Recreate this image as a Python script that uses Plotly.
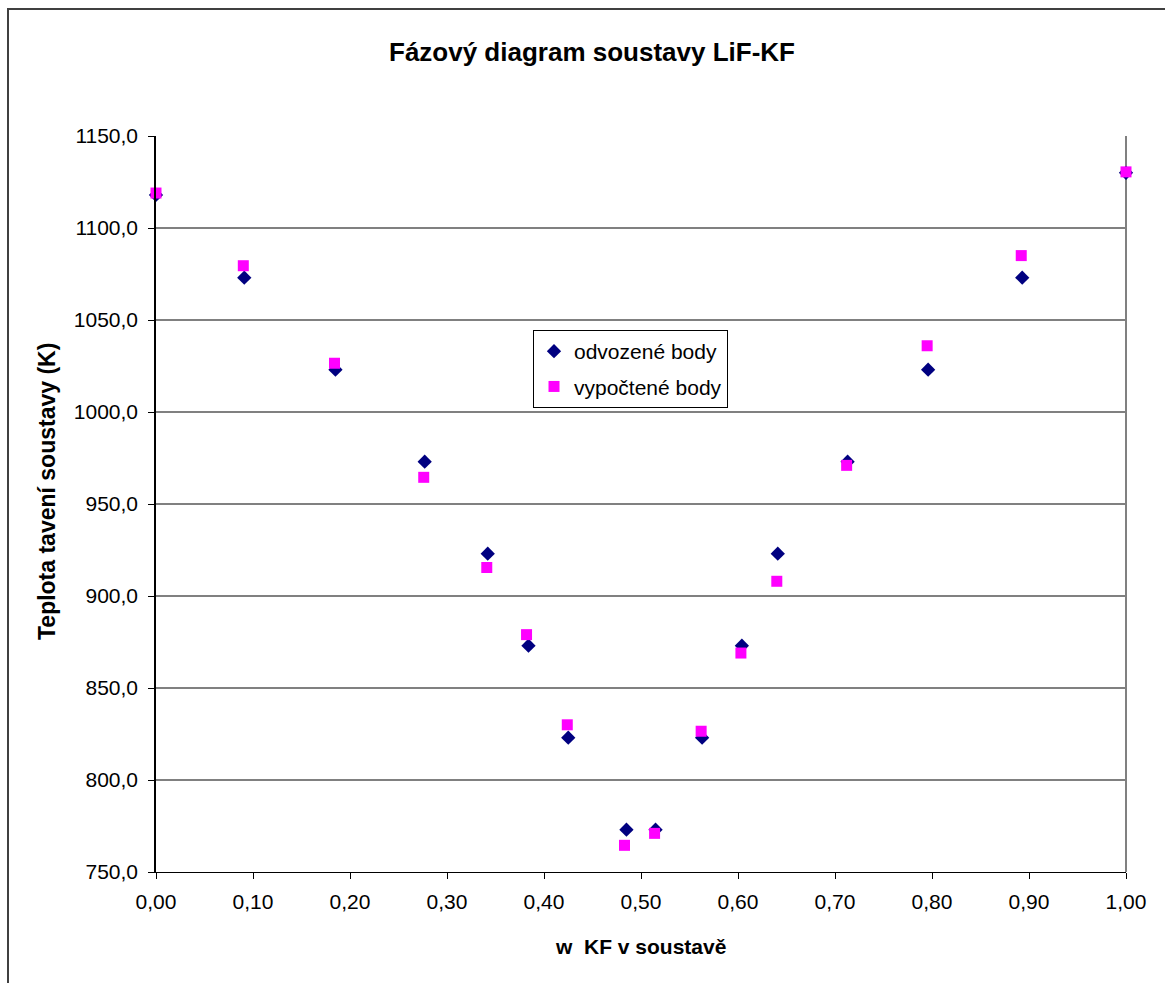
import plotly.graph_objects as go

# Data
x_odv = [0.0, 0.091, 0.185, 0.277, 0.342, 0.384, 0.425, 0.485, 0.515, 0.563, 0.604, 0.641, 0.713, 0.796, 0.893, 1.0]
y_odv = [1118, 1073, 1023, 973, 923, 873, 823, 773, 773, 823, 873, 923, 973, 1023, 1073, 1130]

x_vyp = [0.0, 0.090, 0.184, 0.276, 0.341, 0.382, 0.424, 0.483, 0.514, 0.562, 0.603, 0.640, 0.712, 0.795, 0.892, 1.0]
y_vyp = [1119, 1079.5, 1026.5, 964.5, 915.5, 879, 830, 764.5, 771, 826.5, 869, 908, 971, 1036, 1085, 1130.5]

x_ticks = [i / 10 for i in range(11)]
y_ticks = [750, 800, 850, 900, 950, 1000, 1050, 1100, 1150]

FONT = "Liberation Sans, Arial, sans-serif"
W, H = 1165, 983
L, R, T, B = 156, 39, 136, 111
PW, PH = W - L - R, H - T - B

def px_x(p):
    return (p - L) / PW

def px_y(p):
    return (H - B - p) / PH

fig = go.Figure()
fig.add_trace(go.Scatter(
    x=x_odv, y=y_odv, mode="markers", name="odvozené body", legendgroup="a",
    marker=dict(symbol="diamond", size=11, color="#000080", line=dict(width=0)),
    cliponaxis=False,
))
fig.add_trace(go.Scatter(
    x=x_vyp, y=y_vyp, mode="markers", name="vypočtené body", legendgroup="b",
    marker=dict(symbol="square", size=11, color="#FF00FF", line=dict(width=0)),
    cliponaxis=False,
))

fig.update_layout(
    width=W, height=H,
    margin=dict(l=L, r=R, t=T, b=B, pad=0),
    paper_bgcolor="white", plot_bgcolor="white",
    font=dict(family=FONT, size=21, color="black"),
    separators=",.",
    showlegend=True,
    legend=dict(
        x=px_x(533), y=px_y(330), xanchor="left", yanchor="top",
        bordercolor="black", borderwidth=1, bgcolor="white",
        font=dict(family=FONT, size=21, color="black"),
        itemwidth=30, tracegroupgap=5,
    ),
    xaxis=dict(
        range=[0, 1], tickmode="array", tickvals=x_ticks, tickformat=".2f",
        showgrid=False, zeroline=False,
        showline=True, linecolor="black", linewidth=1,
        ticks="outside", ticklen=6, tickcolor="black", tickwidth=1,
        ticklabelstandoff=5,
        tickfont=dict(family=FONT, size=21, color="black"),
    ),
    yaxis=dict(
        range=[750, 1150], tickmode="array", tickvals=y_ticks, tickformat=".1f",
        showgrid=True, gridcolor="#808080", gridwidth=1.5, zeroline=False,
        showline=True, linecolor="black", linewidth=1.5,
        ticks="outside", ticklen=6, tickcolor="black", tickwidth=1,
        ticklabelstandoff=6,
        tickfont=dict(family=FONT, size=21, color="black"),
    ),
    annotations=[
        dict(text="<b>Fázový diagram soustavy LiF-KF</b>", xref="paper", yref="paper",
             x=px_x(592), y=px_y(52), xanchor="center", yanchor="middle",
             showarrow=False, font=dict(family=FONT, size=26, color="black")),
        dict(text="<b>w\u00a0 KF v soustavě</b>", xref="paper", yref="paper",
             x=px_x(640), y=px_y(946), xanchor="center", yanchor="middle",
             showarrow=False, font=dict(family=FONT, size=21, color="black")),
        dict(text="<b>Teplota tavení soustavy (K)</b>", xref="paper", yref="paper",
             x=px_x(47), y=px_y(492), xanchor="center", yanchor="middle", textangle=-90,
             showarrow=False, font=dict(family=FONT, size=23, color="black")),
    ],
    shapes=[
        # right plot-area border
        dict(type="line", xref="paper", yref="paper", x0=1, x1=1, y0=0, y1=1,
             line=dict(color="#808080", width=2), layer="below"),
        # outer chart border (extends beyond the visible page on right/bottom)
        dict(type="rect", xref="paper", yref="paper",
             x0=px_x(8), y0=px_y(H + 20), x1=px_x(W + 20), y1=px_y(9),
             line=dict(color="#404040", width=2), fillcolor="rgba(0,0,0,0)", layer="below"),
    ],
)

fig.write_html("out.html")
